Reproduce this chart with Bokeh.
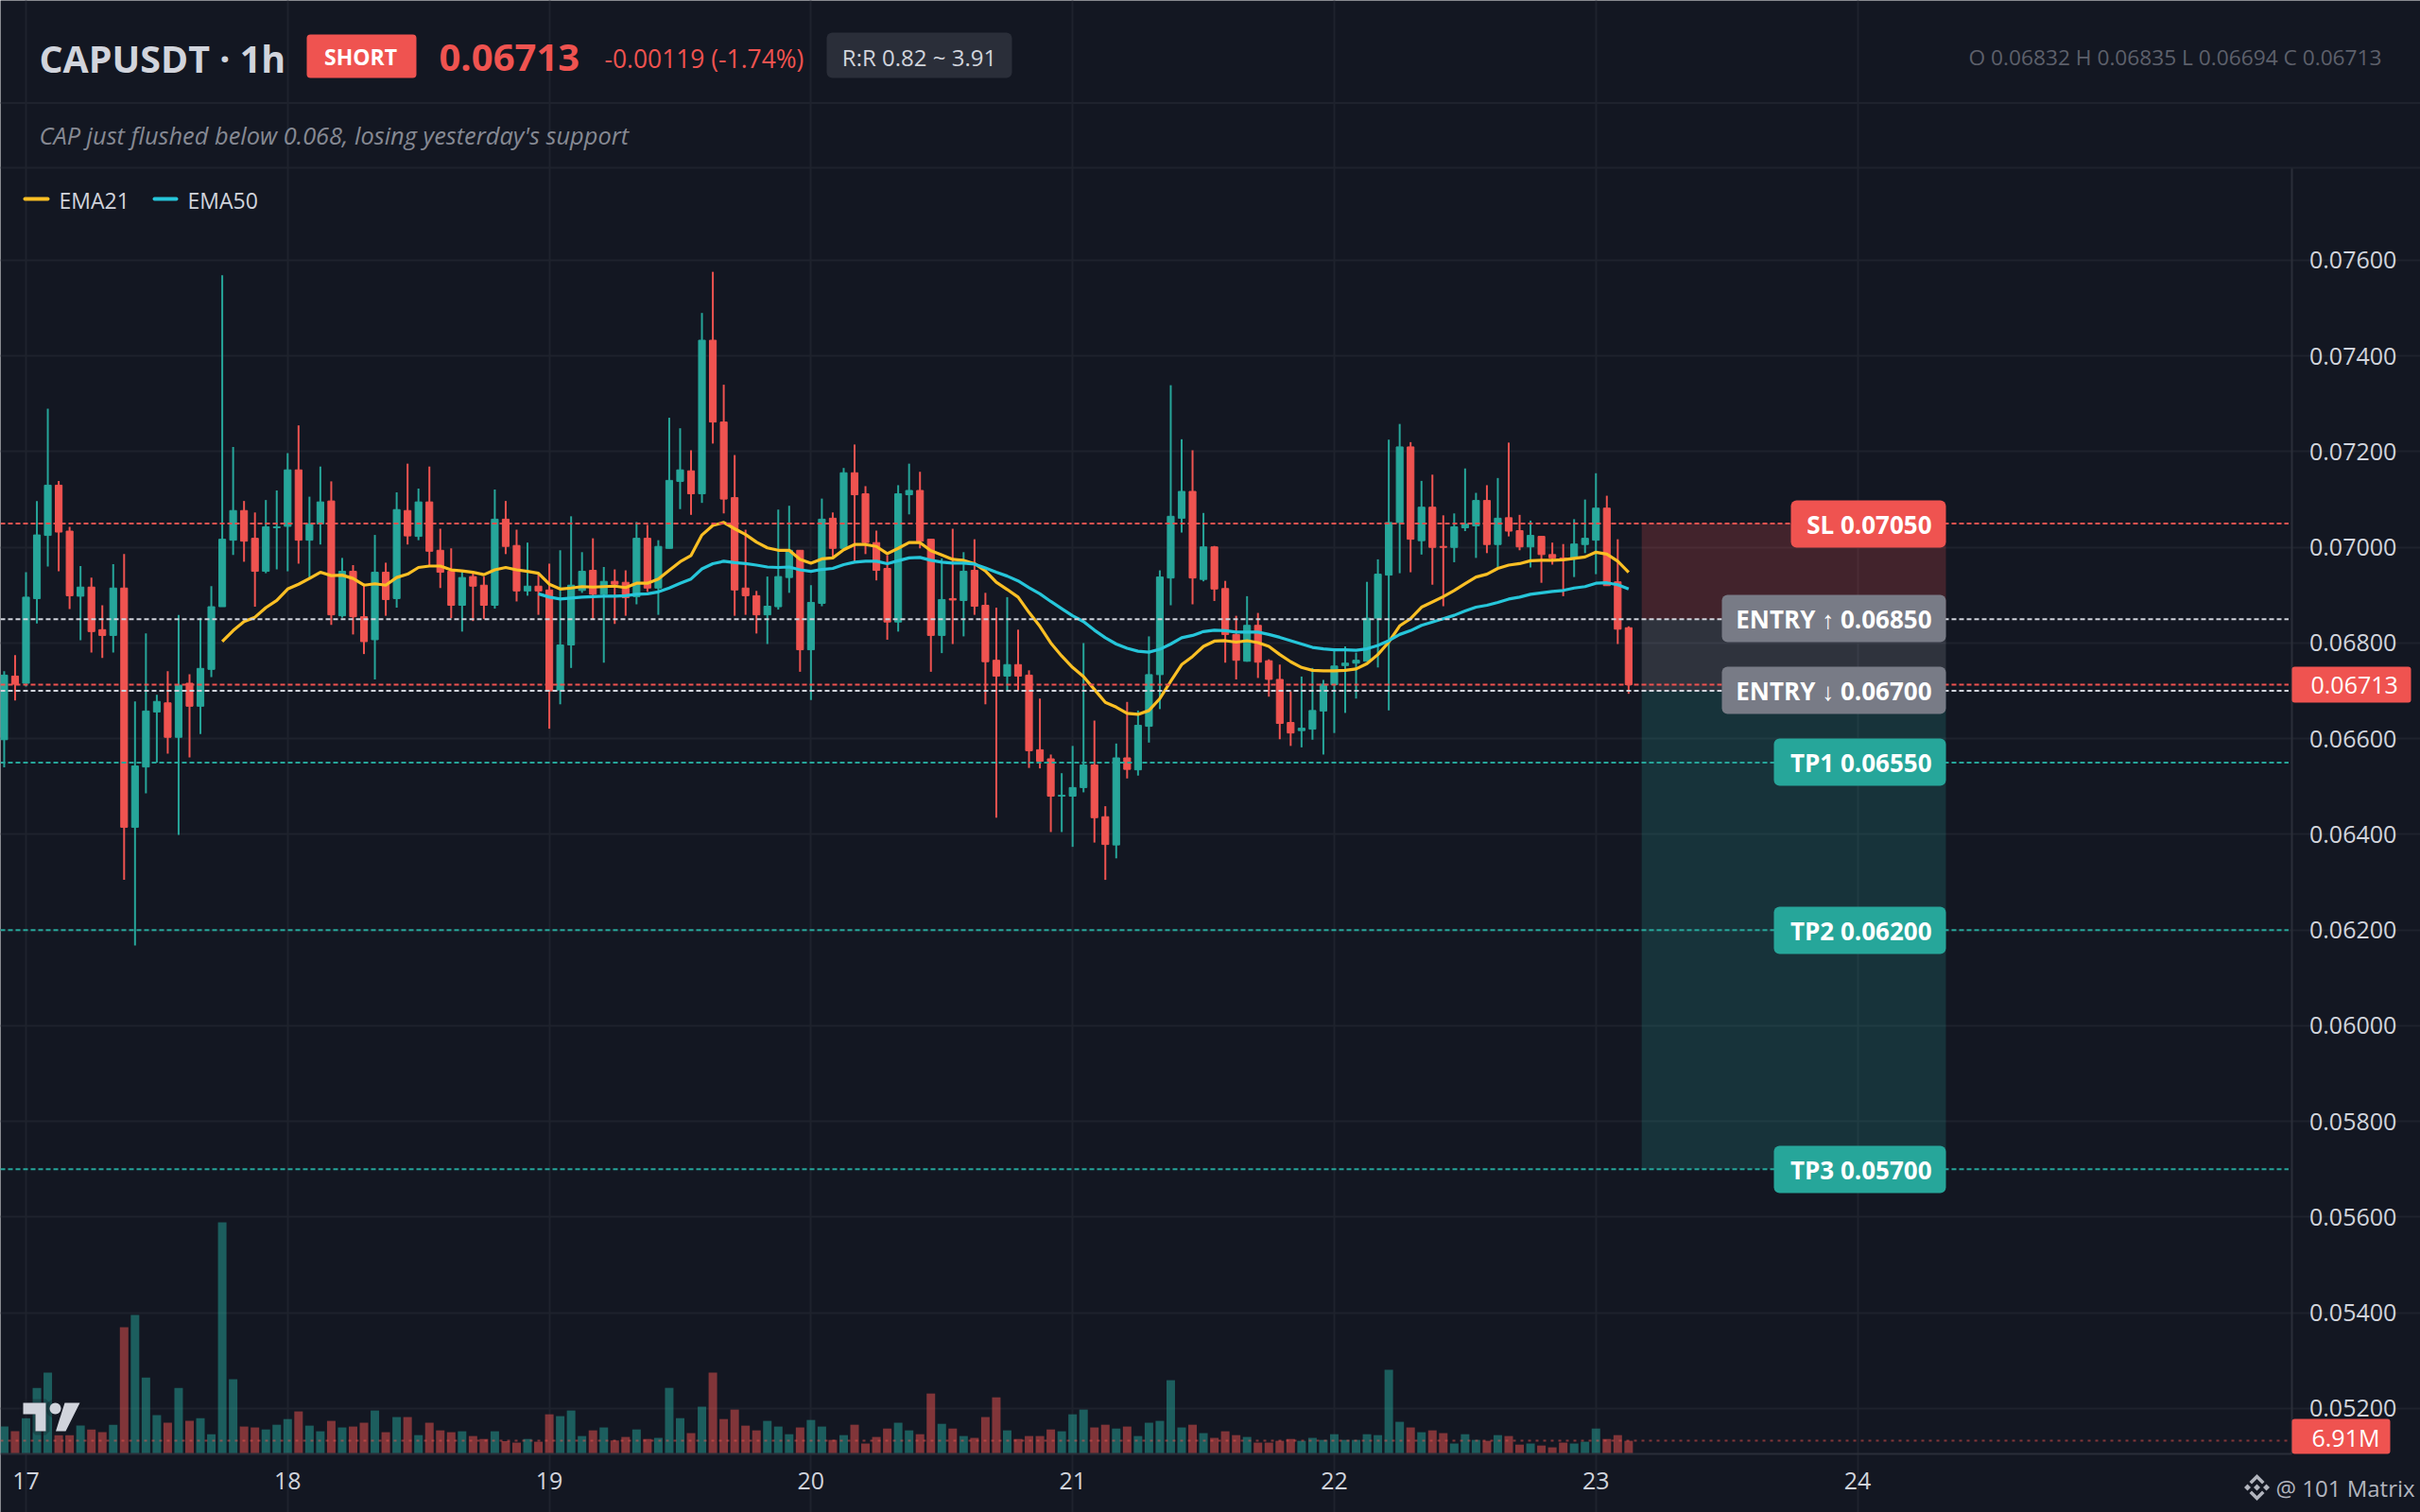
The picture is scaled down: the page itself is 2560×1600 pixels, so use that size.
import numpy as np
from bokeh.plotting import figure
from bokeh.embed import file_html
from bokeh.resources import INLINE
from bokeh.models import (Range1d, LinearAxis, Grid, FixedTicker, NumeralTickFormatter, Label,
                          BoxAnnotation, PolyAnnotation, ColumnDataSource)

# ---- data: prices in units of 0.00001, volume in millions ----
PRICE_UNIT = 1e-5
first_hour = -2   # hours relative to day 17 00:00
opens = [6598,6731,6716,6893,7025,7130,7034,6898,6917,6828,6816,6915,6415,6541,6656,6675,6603,6716,6668,6745,6876,7015,7077,7019,6950,7041,7044,7162,7015,7049,7097,6857,6950,6855,6807,6948,6893,7077,7023,7095,6994,6950,6879,6939,6921,6879,7059,7004,6909,6919,6911,6702,
6796,6910,6952,6902,6929,6927,6897,7019,6915,6998,7138,7160,7112,7433,7262,7104,6915,6899,6859,6876,6937,6994,6786,6883,7061,6998,7156,7112,7010,6956,6844,7110,7119,7017,6816,6893,6889,6952,6879,6764,6731,6755,6733,6577,6558,6480,6480,6498,6545,6437,6378,6560,6535,6626,6734,6936,7061,7117,6933,7001,6914,6818,6762,6837,6763,6724,6634,6617,6620,6658,6713,6753,6758,6762,6852,6942,7052,7210,7014,7084,7002,7000,7041,7045,7098,7006,7062,7035,7001,7023,6985,6978,6978,7006,7015,7082,6928,6832]
closes = [6733,6714,6896,7026,7130,7032,6899,6917,6824,6816,6915,6415,6543,6658,6678,6603,6712,6668,6747,6876,7017,7077,7013,6950,7043,7043,7162,7015,7049,7095,6859,6950,6855,6803,6948,6891,7079,7024,7095,6992,6948,6879,6937,6919,6879,7059,7002,6909,6919,6909,6700,6796,
6921,6950,6902,6929,6923,6895,7019,6915,7002,7140,7162,7112,7433,7262,7101,6911,6899,6859,6877,6939,6994,6786,6885,7059,6998,7156,7110,7010,6952,6844,7112,7119,7013,6816,6891,6890,6950,6877,6761,6731,6755,6731,6575,6553,6480,6482,6498,6545,6435,6379,6560,6536,6628,6734,6938,7065,7117,6936,7001,6913,6818,6764,6837,6760,6724,6632,6612,6622,6659,6714,6752,6758,6764,6852,6944,7052,7210,7017,7084,7000,7000,7043,7049,7098,7006,7061,7034,7001,7025,6985,6978,6976,7007,7019,7082,6920,6829,6713]
highs = [6741,6775,6948,7097,7290,7139,7043,6961,6937,6879,6965,6986,6678,6820,6692,6741,6859,6735,6853,6919,7569,7210,7097,7073,7099,7119,7197,7255,7106,7169,7138,6978,6963,6924,7026,6968,7115,7175,7123,7169,7039,6998,6950,6950,6939,7121,7097,7037,7010,6946,6966,6994,
7065,6990,7019,6959,6954,6952,7053,7047,7015,7271,7249,7203,7490,7576,7340,7193,7037,6909,6939,7079,7087,6994,6921,7102,7073,7166,7215,7128,7035,6984,7130,7175,7158,7017,6977,7039,6990,7017,6905,6874,6896,6828,6743,6684,6567,6528,6585,6800,6638,6459,6590,6677,6659,6814,6952,7339,7226,7203,7072,7003,6930,6857,6898,6863,6766,6755,6699,6730,6748,6723,6789,6793,6780,6928,6975,7225,7258,7220,7139,7152,7067,7071,7165,7114,7130,7145,7219,7068,7056,7023,7010,7007,7059,7100,7155,7108,7017,6835]
lows = [6540,6680,6709,6841,6960,6950,6871,6806,6780,6769,6780,6305,6168,6486,6550,6569,6399,6561,6610,6729,6876,6984,6970,6876,6946,6954,6950,6966,6935,7006,6838,6853,6818,6777,6724,6857,6874,7006,7015,6960,6915,6852,6824,6846,6850,6872,6986,6887,6899,6859,6621,6672,
6748,6905,6850,6759,6840,6857,6881,6907,6859,6998,7080,7068,7093,7217,7071,6857,6859,6820,6798,6870,6905,6740,6681,6877,6979,6998,6967,6986,6931,6807,6824,7069,6998,6740,6779,6798,6814,6859,6672,6435,6699,6701,6539,6538,6405,6405,6374,6488,6383,6305,6350,6517,6523,6592,6662,6879,7031,6881,6929,6888,6759,6724,6761,6727,6688,6599,6585,6582,6598,6567,6612,6654,6684,6762,6749,6659,6946,6948,6985,6922,6877,6969,7034,6978,6988,6958,7023,6994,6958,6926,6964,6898,6938,6988,6944,6920,6798,6694]
volumes = [14.7,12.1,19.3,35.9,44.2,10.0,10.0,15.2,13.1,11.6,15.7,69.1,75.8,41.6,20.9,16.8,35.9,17.8,19.3,10.5,126.6,40.6,14.7,14.2,13.1,15.7,18.8,23.0,15.2,12.1,17.8,14.2,14.7,16.8,23.5,11.6,19.9,19.9,10.0,16.8,12.6,11.6,12.1,9.5,7.9,12.1,6.7,5.9,7.9,6.4,21.4,20.4,
23.5,9.5,12.6,14.2,7.1,9.0,13.1,7.9,8.5,35.9,19.3,11.1,25.6,44.2,18.8,24.0,15.2,12.6,17.8,14.7,10.5,14.2,18.3,14.7,7.4,10.0,15.7,5.4,9.0,13.6,16.8,12.6,10.5,32.8,16.2,13.6,9.5,8.5,19.9,30.7,12.6,7.9,9.5,9.5,13.1,12.1,21.4,24.0,14.2,15.7,13.6,14.7,9.5,16.8,17.8,40.1,14.2,15.7,11.1,8.5,12.1,10.0,9.0,5.9,5.9,6.9,7.9,6.9,8.5,7.4,10.5,7.4,7.4,10.5,10.0,45.8,17.3,14.2,11.6,12.6,11.1,5.4,10.5,7.4,6.9,10.0,9.5,4.8,5.4,4.3,3.3,5.9,5.4,6.4,13.6,7.9,10.0,6.91]
ema21_start = 18
ema21 = [6803,6826,6845,6854,6874,6889,6913,6923,6935,6948,6941,6942,6935,6921,6924,6921,6937,6944,6958,6961,6961,6953,6951,6948,6943,6953,6958,6953,6950,6946,6923,6913,
6915,6918,6917,6918,6919,6916,6925,6925,6934,6952,6970,6983,7026,7046,7052,7039,7027,7011,6999,6994,6994,6975,6967,6976,6978,6995,7006,7006,7002,6987,6998,7010,7010,6993,6984,6975,6973,6966,6951,6927,6912,6896,6864,6835,6800,6773,6749,6730,6703,6676,6666,6653,
6651,6659,6684,6720,6755,6772,6793,6804,6805,6802,6805,6801,6793,6776,6761,6749,6743,6742,6742,6743,6746,6757,6776,6802,6836,6851,6875,6886,6897,6910,6924,6938,6944,6956,6963,6966,6972,6973,6973,6974,6977,6980,6990,6986,6971,6948]
ema50_start = 47
ema50 = [6903,6896,6892,6894,6896,6897,6898,6898,6899,6902,6903,6907,6915,6925,6934,6955,6966,6971,6968,6966,6963,6959,6958,6959,6953,6950,6954,6956,6964,6969,6971,6971,6966,6972,6978,6979,6973,6969,6967,6967,6965,6957,6948,6940,6930,6916,6903,6887,6872,6857,6845,
6827,6811,6798,6789,6783,6781,6787,6798,6811,6816,6824,6827,6826,6823,6823,6823,6818,6812,6805,6798,6791,6788,6786,6786,6785,6788,6795,6805,6818,6826,6837,6844,6851,6858,6867,6875,6879,6885,6892,6896,6902,6905,6908,6910,6915,6918,6925,6926,6922,6913]
day_ticks = [0, 24, 48, 72, 96, 120, 144, 168]
day_labels = ["17", "18", "19", "20", "21", "22", "23", "24"]
price_ticks = [0.052, 0.054, 0.056, 0.058, 0.060, 0.062, 0.064, 0.066, 0.068, 0.070, 0.072, 0.074, 0.076]
sl = 0.0705
entry_hi = 0.0685
entry_lo = 0.0670
tp1, tp2, tp3 = 0.0655, 0.0620, 0.0570
last_price = 0.06713
last_volume = 6.91
zone_hours = (148.2, 176.1)

assert len(opens) == len(closes) == len(highs) == len(lows) == len(volumes) == 150
assert len(ema21) == 130 and len(ema50) == 101

BG = "#131722"; GRID = "#1e222d"; AXIS = "#2a2e39"; TXT = "#d1d4dc"
UP = "#26a69a"; DOWN = "#ef5350"; GREY = "#787b86"
FONT = "Open Sans"

# the plotting frame fills the whole canvas; the chart area inside it ends at these limits
X_LEFT, X_AXIS = -2.341, 207.88
Y_BOTTOM, Y_TOP = 0.051052, 0.077936

p = figure(width=2560, height=1600, output_backend="svg", toolbar_location=None,
           x_range=Range1d(X_LEFT, 219.63), y_range=Range1d(0.049827, 0.081432),
           x_axis_location=None, y_axis_location=None,
           min_border_left=0, min_border_right=0, min_border_top=0, min_border_bottom=0,
           background_fill_color=BG, border_fill_color=BG, outline_line_color=None)
p.extra_y_ranges = {"vol": Range1d(-32.4, 796.4)}
p.center = []

# axes and grid
xax = LinearAxis(ticker=FixedTicker(ticks=day_ticks), major_label_overrides=dict(zip(day_ticks, day_labels)),
                 fixed_location=Y_BOTTOM, bounds=(X_LEFT, X_AXIS), major_label_standoff=14)
yax = LinearAxis(ticker=FixedTicker(ticks=price_ticks), formatter=NumeralTickFormatter(format="0.00000"),
                 fixed_location=X_AXIS, bounds=(Y_BOTTOM, Y_TOP), major_label_standoff=12)
for ax in (xax, yax):
    ax.axis_line_color = AXIS; ax.axis_line_width = 2
    ax.major_tick_line_color = None; ax.minor_tick_line_color = None
    ax.major_label_text_color = TXT; ax.major_label_text_font = FONT
    ax.major_label_text_font_size = "25px"
p.add_layout(xax, "below")
p.add_layout(yax, "right")
p.add_layout(Grid(dimension=0, ticker=FixedTicker(ticks=day_ticks), bounds=(Y_BOTTOM, Y_TOP), grid_line_color=GRID, grid_line_width=2))
p.add_layout(Grid(dimension=1, ticker=FixedTicker(ticks=price_ticks), bounds=(X_LEFT, X_AXIS), grid_line_color=GRID, grid_line_width=2))

# trade zones
p.quad(left=zone_hours[0], right=zone_hours[1], bottom=entry_hi, top=sl, fill_color=DOWN, fill_alpha=0.22, line_color=None)
p.quad(left=zone_hours[0], right=zone_hours[1], bottom=entry_lo, top=entry_hi, fill_color=TXT, fill_alpha=0.15, line_color=None)
p.quad(left=zone_hours[0], right=zone_hours[1], bottom=tp3, top=entry_lo, fill_color=UP, fill_alpha=0.2, line_color=None)

# volume
hours = np.arange(first_hour, first_hour + len(opens))
o = np.array(opens) * PRICE_UNIT; c = np.array(closes) * PRICE_UNIT
h = np.array(highs) * PRICE_UNIT; l = np.array(lows) * PRICE_UNIT
colors = [UP if a >= b else DOWN for a, b in zip(closes, opens)]
src = ColumnDataSource(dict(x=hours, o=o, c=c, h=h, l=l, top=np.maximum(o, c), bot=np.minimum(o, c),
                            v=volumes, color=colors))
p.vbar(x="x", top="v", bottom=0, width=0.78, source=src, fill_color="color", fill_alpha=0.5,
       line_color=None, y_range_name="vol")

# candles
p.segment(x0="x", x1="x", y0="l", y1="h", source=src, line_color="color", line_width=2)
p.vbar(x="x", top="top", bottom="bot", width=0.62, source=src, fill_color="color", line_color="color", line_width=1)

# EMAs
p.line(np.arange(ema21_start, ema21_start + len(ema21)), np.array(ema21) * PRICE_UNIT, line_color="#fbbf24", line_width=3.2)
p.line(np.arange(ema50_start, ema50_start + len(ema50)), np.array(ema50) * PRICE_UNIT, line_color="#26c6da", line_width=3.2)

# price levels
DASH = "5 3"
X_LVL_END = X_AXIS - 0.35
for lvl, col in [(sl, DOWN), (entry_hi, TXT), (entry_lo, TXT), (tp1, UP), (tp2, UP), (tp3, UP), (last_price, DOWN)]:
    p.segment(x0=X_LEFT, x1=X_LVL_END, y0=lvl, y1=lvl, line_color=col, line_width=2, line_dash=DASH)
p.segment(x0=X_LEFT, x1=X_LVL_END, y0=last_volume, y1=last_volume, y_range_name="vol", line_color=DOWN,
          line_alpha=0.5, line_width=2, line_dash="3 5")

def box(l_, r_, t_, b_, color, radius=0, alpha=1.0):
    p.add_layout(BoxAnnotation(left=l_, right=r_, top=t_, bottom=b_, left_units="canvas", right_units="canvas",
                               top_units="canvas", bottom_units="canvas", fill_color=color, fill_alpha=alpha,
                               line_color=None, border_radius=radius))

def txt(s, x, y, size, color, style="normal", align="left"):
    p.add_layout(Label(x=x, y=y, x_units="canvas", y_units="canvas", text=s, text_font=FONT,
                       text_font_size=f"{size}px", text_color=color, text_font_style=style,
                       text_align=align, text_baseline="middle"))

def poly(xs, ys, color, line=None, lw=0):
    p.add_layout(PolyAnnotation(xs=list(xs), ys=list(ys), xs_units="canvas", ys_units="canvas", fill_color=color,
                                fill_alpha=1, line_color=line, line_width=lw))

# header
box(0, 2560, 107.5, 109.5, GRID)
box(0, 2560, 176, 178, GRID)
txt("CAPUSDT · 1h", 41, 61, 39.4, TXT, "bold")
box(324, 440, 36, 82, DOWN, 4)
txt("SHORT", 381, 59, 23, "#ffffff", "bold", "center")
txt("0.06713", 464, 60, 40, DOWN, "bold")
txt("-0.00119 (-1.74%)", 639, 61, 26.4, DOWN)
box(874, 1070, 34, 82, AXIS, 6)
txt("R:R 0.82 ~ 3.91", 972, 60, 24, TXT, "normal", "center")
txt("O 0.06832 H 0.06835 L 0.06694 C 0.06713", 2519, 60, 22.7, "#5d606b", "normal", "right")
txt("CAP just flushed below 0.068, losing yesterday's support", 41, 142, 25.4, "#868993", "italic")

# legend
box(24, 52, 208, 212, "#fbbf24", 2)
txt("EMA21", 62, 211, 23, TXT)
box(161, 188, 208, 212, "#26c6da", 2)
txt("EMA50", 198, 211, 23, TXT)

# level badges
for label, left, top, bottom, col in [
    ("SL 0.07050", 1894, 529, 579, DOWN),
    ("ENTRY ↑ 0.06850", 1821, 629, 679, GREY),
    ("ENTRY ↓ 0.06700", 1821, 705, 755, GREY),
    ("TP1 0.06550", 1876, 781, 831, UP),
    ("TP2 0.06200", 1876, 959, 1009, UP),
    ("TP3 0.05700", 1876, 1212, 1262, UP)]:
    box(left, 2058, top, bottom, col, 6)
    txt(label, 2043, (top + bottom) / 2, 26, "#ffffff", "bold", "right")

# price and volume tags on the axis
box(2424, 2550, 705, 743, DOWN, 3)
txt("0.06713", 2444, 724, 25, "#ffffff")
box(2424, 2528, 1501, 1538, DOWN, 3)
txt("6.91M", 2445, 1520, 25, "#ffffff")

# TradingView logo
logo_parts = [
    ([24, 48, 48, 37, 37, 24], [1484, 1484, 1514, 1514, 1496, 1496]),
    ([68, 84, 69, 58.5], [1484, 1484, 1514, 1514]),
    (58 + 6 * np.cos(np.linspace(0, 2 * np.pi, 24, endpoint=False)), 1490 + 6 * np.sin(np.linspace(0, 2 * np.pi, 24, endpoint=False))),
]
for xs, ys in logo_parts:
    poly(xs, ys, BG, BG, 8)
for xs, ys in logo_parts:
    poly(xs, ys, TXT)

# watermark
cx, cy = 2387, 1573.5
for xs, ys in [
    ([0, 3.5, 0, -3.5], [-3.5, 0, 3.5, 0]),
    ([-10, -6.5, -10, -13.5], [-3.5, 0, 3.5, 0]),
    ([10, 13.5, 10, 6.5], [-3.5, 0, 3.5, 0]),
    ([0, 8, 5.5, 0, -5.5, -8], [-14, -6, -3.5, -9, -3.5, -6]),
    ([0, 8, 5.5, 0, -5.5, -8], [14, 6, 3.5, 9, 3.5, 6])]:
    poly(np.array(xs) + cx, np.array(ys) + cy, "#b2b5be")
txt("@ 101 Matrix", 2407, 1574, 24, "#b2b5be")

open("out.html", "w").write(file_html(p, INLINE))
